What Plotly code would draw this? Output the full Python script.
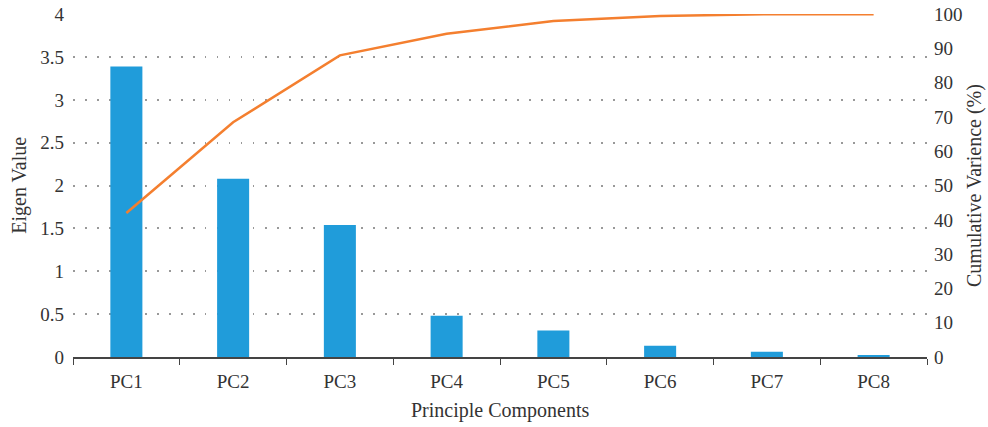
import plotly.graph_objects as go

components = ["PC1", "PC2", "PC3", "PC4", "PC5", "PC6", "PC7", "PC8"]
eigen_values = [3.39, 2.08, 1.54, 0.48, 0.31, 0.13, 0.06, 0.015]
cumulative_variance = [42.0, 68.5, 88.0, 94.3, 98.0, 99.5, 100.0, 100.0]

left_ticks = [0, 0.5, 1, 1.5, 2, 2.5, 3, 3.5, 4]
left_tick_text = ["0", "0.5", "1", "1.5", "2", "2.5", "3", "3.5", "4"]
right_ticks = [0, 10, 20, 30, 40, 50, 60, 70, 80, 90, 100]

font_family = "Liberation Serif, DejaVu Serif, serif"
text_color = "#333333"
fs = 19
tfs = 20

fig = go.Figure()
fig.add_trace(go.Bar(
    x=components, y=eigen_values, marker=dict(color="#209CDA", line=dict(width=0)),
    width=0.3, name="Eigen Value", yaxis="y",
))
fig.add_trace(go.Scatter(
    x=components, y=cumulative_variance, mode="lines",
    line=dict(color="#F47F2F", width=2.5), name="Cumulative", yaxis="y2",
))

fig.update_layout(
    width=988, height=427,
    margin=dict(l=73, r=61, t=14, b=70, autoexpand=False),
    plot_bgcolor="white", paper_bgcolor="white",
    showlegend=False,
    font=dict(family=font_family, size=fs, color=text_color),
    xaxis=dict(
        type="category", tickson="boundaries", ticks="outside", ticklen=6,
        tickcolor="#444444", showline=True, linecolor="#444444", linewidth=1.5,
        showgrid=False, range=[-0.5, 7.5], automargin=False,
        tickfont=dict(size=fs), ticklabelstandoff=6,
    ),
    yaxis=dict(
        range=[0, 4.003], tickvals=left_ticks, ticktext=left_tick_text,
        showgrid=True, gridcolor="#999999", griddash="1.5px,10.5px", gridwidth=1.5,
        zeroline=False, showline=False, ticks="", ticklabelstandoff=8,
        automargin=False,
    ),
    yaxis2=dict(
        range=[0, 100.075], tickvals=right_ticks, overlaying="y", side="right",
        showgrid=False, zeroline=False, showline=False, ticks="",
        ticklabelstandoff=6, automargin=False,
    ),
    annotations=[
        dict(text="Principle Components", xref="paper", yref="paper",
             x=0.5, y=-0.155, xanchor="center", yanchor="middle", showarrow=False,
             font=dict(size=tfs)),
        dict(text="Eigen Value", xref="paper", yref="paper",
             x=-0.063, y=0.5, xanchor="center", yanchor="middle", showarrow=False,
             textangle=-90, font=dict(size=tfs)),
        dict(text="Cumulative Varience (%)", xref="paper", yref="paper",
             x=1.0556, y=0.5, xanchor="center", yanchor="middle", showarrow=False,
             textangle=-90, font=dict(size=tfs)),
    ],
)

fig.write_html(
    "out.html",
    config={"displayModeBar": False},
    post_script="document.body.style.margin='0';document.body.style.overflow='hidden';",
)
